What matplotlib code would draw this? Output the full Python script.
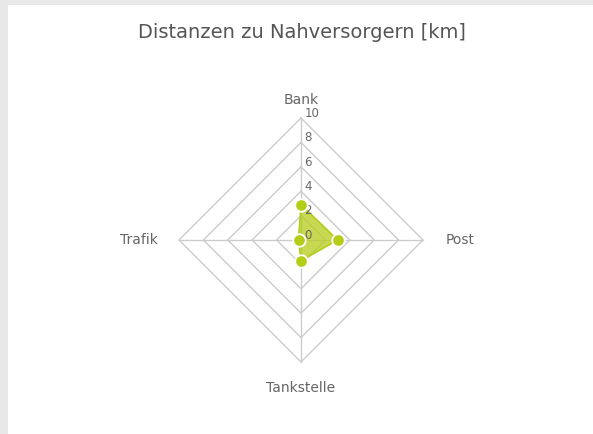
import matplotlib.pyplot as plt
import numpy as np
from matplotlib.patches import Rectangle

# Kategorien (im Uhrzeigersinn ab oben) und Distanzen in km
kategorien = ['Bank', 'Post', 'Tankstelle', 'Trafik']
distanzen = [2.9, 3.0, 1.7, 0.2]
ringe = [2, 4, 6, 8, 10]
ring_labels = ['0', '2', '4', '6', '8', '10']

gruen = '#b5cc18'
grau = '#cccccc'
text_farbe = '#666666'

fig = plt.figure(figsize=(5.93, 4.34), dpi=100)
fig.patch.set_facecolor('#e8e8e8')
fig.patches.append(Rectangle((8 / 593, 0), 1, 1 - 5 / 434, transform=fig.transFigure,
                             facecolor='white', edgecolor='none', zorder=-10))

ax = fig.add_axes([179 / 593, 72 / 434, 244 / 593, 244 / 434], projection='polar')
ax.set_facecolor('none')
ax.set_theta_offset(np.pi / 2)
ax.set_theta_direction(-1)
ax.set_ylim(0, 10)
ax.grid(False)
ax.spines['polar'].set_visible(False)
ax.set_xticks([])
ax.set_yticks([])

winkel = np.arange(len(kategorien)) * 2 * np.pi / len(kategorien)
winkel_zu = np.append(winkel, winkel[0])

# Netz
for r in ringe:
    ax.plot(winkel_zu, [r] * len(winkel_zu), color=grau, lw=1.0, zorder=1, clip_on=False)
for w in winkel:
    ax.plot([w, w], [0, 10], color=grau, lw=1.0, zorder=1, clip_on=False)

# Achsenbeschriftung der Werte
for i, lab in enumerate(ring_labels):
    ax.annotate(lab, xy=(0, i * 2), xytext=(2.5, 0.8), textcoords='offset points',
                ha='left', va='baseline', fontsize=8.5, color=text_farbe, zorder=4.5)

# Datenreihe
werte_zu = np.append(distanzen, distanzen[0])
ax.fill(winkel_zu, werte_zu, color=gruen, alpha=0.75, lw=0, zorder=3)
ax.plot(winkel_zu, werte_zu, color=gruen, lw=1.2, zorder=4)
ax.plot(winkel, distanzen, 'o', color=gruen, markersize=9, markeredgecolor='white',
        markeredgewidth=1.3, zorder=5, clip_on=False)

# Kategorien
ax.text(winkel[0], 11.45, kategorien[0], ha='center', va='center', fontsize=10, color=text_farbe)
ax.text(winkel[1], 11.85, kategorien[1], ha='left', va='center', fontsize=10, color=text_farbe)
ax.text(winkel[2], 12.1, kategorien[2], ha='center', va='center', fontsize=10, color=text_farbe)
ax.text(winkel[3], 11.7, kategorien[3], ha='right', va='center', fontsize=10, color=text_farbe)

fig.text(302 / 593, 1 - 33 / 434, 'Distanzen zu Nahversorgern [km]', ha='center', va='center',
         fontsize=14, color='#555555')

fig.savefig('out.png', dpi=100, facecolor=fig.get_facecolor())
